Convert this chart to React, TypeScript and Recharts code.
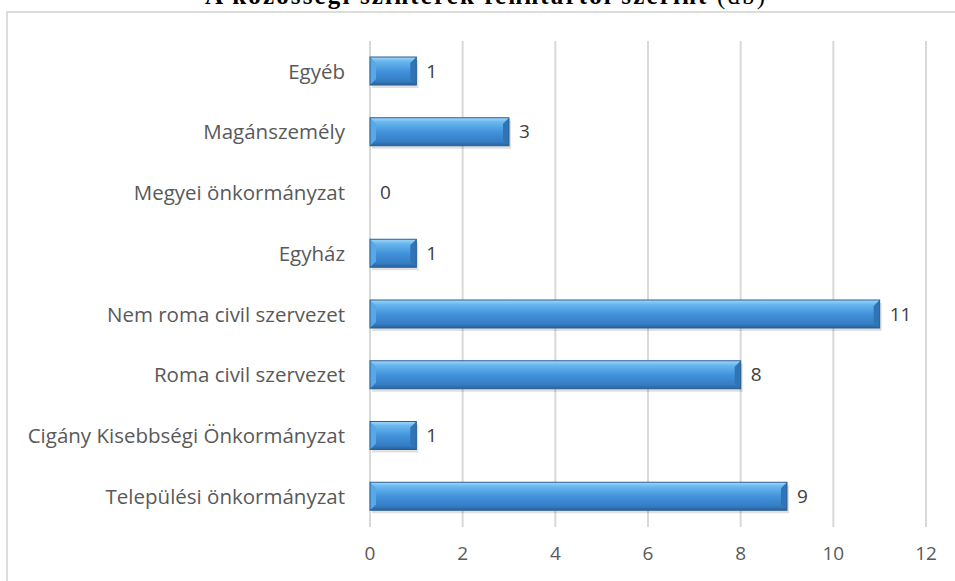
import React from "react";
import {
  BarChart,
  Bar,
  XAxis,
  YAxis,
  CartesianGrid,
  LabelList,
} from "recharts";

const categories = [
  "Egyéb",
  "Magánszemély",
  "Megyei önkormányzat",
  "Egyház",
  "Nem roma civil szervezet",
  "Roma civil szervezet",
  "Cigány Kisebbségi Önkormányzat",
  "Települési önkormányzat",
];
const counts = [1, 3, 0, 1, 11, 8, 1, 9];
const xTicks = [0, 2, 4, 6, 8, 10, 12];
const title = "A közösségi színterek fenntartói szerint";

const data = categories.map((name, i) => ({ name, count: counts[i] }));

const FONT = "'Open Sans', Lato, sans-serif";

// bevelled blue bar, like the Excel style
const BevelBar = (props: any) => {
  const { x, y, width, height } = props;
  if (!width || width <= 0) return null;
  const b = Math.min(6, width / 2);
  return (
    <g>
      <rect x={x + 2} y={y + 3} width={width} height={height} fill="#000" opacity={0.12} />
      <rect x={x} y={y} width={width} height={height} fill="url(#barGrad)" />
      <polygon
        points={`${x + width},${y} ${x + width},${y + height} ${x + width - b},${y + height - b} ${x + width - b},${y + b}`}
        fill="#2f74b5"
      />
      <polygon
        points={`${x},${y} ${x + b},${y + b} ${x + b},${y + height - b} ${x},${y + height}`}
        fill="#58a8e8"
      />
      <rect x={x} y={y} width={width} height={height} fill="none" stroke="#2b5f92" strokeWidth={1} />
    </g>
  );
};

export default function App() {
  return (
    <div
      style={{
        position: "fixed",
        left: 0,
        top: 0,
        width: 955,
        height: 581,
        overflow: "hidden",
        background: "#fff",
      }}
    >
      <svg
        width={955}
        height={20}
        style={{ position: "absolute", left: 0, top: 0 }}
      >
        <text
          x={205}
          y={4}
          textLength={560}
          lengthAdjust="spacing"
          fontFamily="'Liberation Serif', 'Times New Roman', serif"
          fontSize={25}
          fill="#000"
        >
          <tspan fontWeight="bold">{title}</tspan>
          <tspan> (db)</tspan>
        </text>
      </svg>
      <div
        style={{
          position: "absolute",
          left: 6,
          top: 11,
          width: 1000,
          height: 620,
          border: "2px solid #dcdcdc",
        }}
      />
      <div style={{ position: "absolute", left: 0, top: 0 }}>
        <BarChart
          width={955}
          height={581}
          data={data}
          layout="vertical"
          margin={{ top: 41, right: 29, bottom: 24, left: 10 }}
          barCategoryGap={32}
        >
          <defs>
            <linearGradient id="barGrad" x1="0" y1="0" x2="0" y2="1">
              <stop offset="0%" stopColor="#a3d8f8" />
              <stop offset="15%" stopColor="#6ab8ef" />
              <stop offset="50%" stopColor="#4293dc" />
              <stop offset="85%" stopColor="#367dc4" />
              <stop offset="100%" stopColor="#27639e" />
            </linearGradient>
          </defs>
          <CartesianGrid horizontal={false} stroke="#d9d9d9" strokeWidth={2} />
          <XAxis
            type="number"
            domain={[0, 12]}
            ticks={xTicks}
            height={30}
            axisLine={false}
            tickLine={false}
            tickSize={0}
            tickMargin={20}
            tick={{ fill: "#595959", fontSize: 19, fontFamily: FONT }}
          />
          <YAxis
            type="category"
            dataKey="name"
            width={360}
            axisLine={false}
            tickLine={false}
            tickSize={0}
            tickMargin={25}
            tick={{ fill: "#595959", fontSize: 20.5, fontFamily: FONT }}
          />
          <Bar
            dataKey="count"
            barSize={28}
            shape={<BevelBar />}
            isAnimationActive={false}
          >
            <LabelList
              dataKey="count"
              position="right"
              offset={10}
              fill="#404040"
              fontSize={19}
              fontFamily={FONT}
            />
          </Bar>
        </BarChart>
      </div>
    </div>
  );
}
